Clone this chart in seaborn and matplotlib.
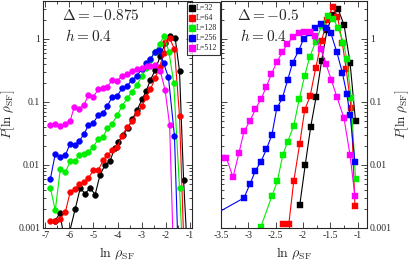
import numpy as np
import pandas as pd
import matplotlib
matplotlib.use("Agg")
import matplotlib.pyplot as plt
import seaborn as sns
from matplotlib.lines import Line2D
from matplotlib.ticker import FixedLocator, FixedFormatter, LogLocator, MultipleLocator, NullFormatter

# sizes and colours
sizes = ["L=32", "L=64", "L=128", "L=256", "L=512"]
colors = ["#000000", "#ff0000", "#00ee00", "#0000ff", "#ff00ff"]

# left panel: Delta = -0.875
x_l32 = [-6.6, -6.4, -6.15, -5.76, -5.55, -5.35, -5.14, -4.93, -4.73, -4.52, -4.32, -4.11, -3.97, -3.76, -3.56, -3.38, -3.19, -2.98, -2.8, -2.63, -2.43, -2.22, -2.02, -1.83, -1.6, -1.42, -1.25, -1.05]
y_l32 = [0.0013, 0.0017, 0.0005, 0.002, 0.0043, 0.0035, 0.0043, 0.0034, 0.0069, 0.010, 0.0114, 0.0187, 0.0233, 0.030, 0.039, 0.053, 0.074, 0.11, 0.151, 0.224, 0.32, 0.54, 0.85, 1.12, 1.03, 0.31, 0.0058, 0.0002]
x_l64 = [-6.79, -6.59, -6.38, -6.17, -5.97, -5.76, -5.6, -5.39, -5.21, -5.0, -4.8, -4.59, -4.43, -4.22, -4.01, -3.81, -3.6, -3.39, -3.19, -2.98, -2.8, -2.63, -2.43, -2.25, -2.07, -2.01, -1.83, -1.63, -1.42, -1.2]
y_l64 = [0.0013, 0.0013, 0.0014, 0.0018, 0.0037, 0.0042, 0.005, 0.0053, 0.0062, 0.0083, 0.0083, 0.0119, 0.0143, 0.017, 0.0194, 0.029, 0.040, 0.049, 0.068, 0.086, 0.121, 0.159, 0.238, 0.36, 0.59, 0.9, 1.03, 0.69, 0.06, 0.0002]
x_l128 = [-6.79, -6.59, -6.38, -6.17, -5.97, -5.76, -5.6, -5.39, -5.21, -5.0, -4.8, -4.59, -4.43, -4.22, -4.01, -3.81, -3.6, -3.39, -3.19, -2.98, -2.8, -2.63, -2.43, -2.25, -2.07, -1.86, -1.66, -1.42, -1.25]
y_l128 = [0.0043, 0.0019, 0.0086, 0.0076, 0.0114, 0.0114, 0.0145, 0.015, 0.016, 0.0194, 0.026, 0.028, 0.038, 0.045, 0.062, 0.086, 0.114, 0.146, 0.186, 0.259, 0.34, 0.46, 0.63, 0.83, 1.1, 0.63, 0.2, 0.0043, 0.0002]
x_l256 = [-6.79, -6.59, -6.38, -6.17, -5.97, -5.76, -5.6, -5.39, -5.21, -5.0, -4.8, -4.59, -4.43, -4.22, -4.01, -3.81, -3.6, -3.39, -3.19, -3.0, -2.8, -2.63, -2.45, -2.28, -2.08, -1.88, -1.63, -1.45]
y_l256 = [0.0061, 0.015, 0.0134, 0.0143, 0.0218, 0.0209, 0.0238, 0.031, 0.043, 0.047, 0.062, 0.066, 0.086, 0.119, 0.125, 0.165, 0.18, 0.224, 0.259, 0.33, 0.41, 0.476, 0.63, 0.67, 0.41, 0.246, 0.029, 0.0002]
x_l512 = [-6.79, -6.59, -6.38, -6.17, -5.97, -5.8, -5.6, -5.39, -5.21, -5.0, -4.8, -4.59, -4.43, -4.22, -4.01, -3.81, -3.6, -3.39, -3.19, -2.98, -2.77, -2.63, -2.43, -2.22, -2.02, -1.83, -1.65]
y_l512 = [0.043, 0.045, 0.041, 0.045, 0.050, 0.084, 0.078, 0.090, 0.129, 0.121, 0.159, 0.165, 0.171, 0.224, 0.215, 0.259, 0.278, 0.31, 0.33, 0.343, 0.372, 0.376, 0.38, 0.31, 0.155, 0.043, 0.0002]

# right panel: Delta = -0.5
x_r32 = [-2.06, -1.96, -1.86, -1.76, -1.66, -1.56, -1.46, -1.36, -1.25, -1.14, -1.04]
y_r32 = [0.0023, 0.010, 0.040, 0.121, 0.45, 1.39, 2.4, 3.0, 1.67, 0.42, 0.05]
x_r64 = [-2.37, -2.26, -2.17, -2.06, -1.97, -1.87, -1.77, -1.66, -1.56, -1.46, -1.37, -1.28, -1.21, -1.12, -1.05]
y_r64 = [0.00115, 0.00115, 0.0055, 0.0218, 0.074, 0.124, 0.34, 0.94, 2.0, 3.2, 2.26, 0.85, 0.33, 0.08, 0.0022]
x_r128 = [-2.77, -2.57, -2.47, -2.37, -2.28, -2.17, -2.07, -1.97, -1.88, -1.77, -1.66, -1.55, -1.45, -1.36, -1.26, -1.2, -1.12, -1.04]
y_r128 = [0.00105, 0.0032, 0.0055, 0.0144, 0.0235, 0.042, 0.11, 0.259, 0.51, 0.9, 1.6, 2.3, 2.1, 1.5, 0.87, 0.48, 0.114, 0.006]
x_r256 = [-3.9, -3.08, -2.97, -2.87, -2.77, -2.67, -2.57, -2.48, -2.38, -2.28, -2.19, -2.08, -1.99, -1.88, -1.78, -1.68, -1.58, -1.49, -1.38, -1.28, -1.2, -1.14, -1.05]
y_r256 = [0.0012, 0.003, 0.005, 0.0081, 0.0113, 0.0177, 0.030, 0.079, 0.114, 0.224, 0.42, 0.65, 1.0, 1.25, 1.48, 1.73, 1.48, 1.23, 0.61, 0.29, 0.134, 0.062, 0.0112]
x_r512 = [-3.49, -3.4, -3.28, -3.17, -3.08, -2.97, -2.87, -2.77, -2.67, -2.58, -2.48, -2.38, -2.29, -2.19, -2.08, -1.99, -1.88, -1.78, -1.68, -1.58, -1.48, -1.38, -1.25, -1.14, -1.05]
y_r512 = [0.0128, 0.0128, 0.0064, 0.0157, 0.034, 0.05, 0.077, 0.11, 0.175, 0.275, 0.43, 0.61, 0.83, 1.06, 1.23, 1.28, 1.31, 1.1, 0.7, 0.4, 0.22, 0.12, 0.055, 0.0143, 0.0032]

left_x = [x_l32, x_l64, x_l128, x_l256, x_l512]
left_y = [y_l32, y_l64, y_l128, y_l256, y_l512]
right_x = [x_r32, x_r64, x_r128, x_r256, x_r512]
right_y = [y_r32, y_r64, y_r128, y_r256, y_r512]

sns.set_style("ticks")
plt.rcParams["font.family"] = ["Liberation Serif", "DejaVu Serif"]
plt.rcParams["mathtext.fontset"] = "cm"
plt.rcParams["axes.linewidth"] = 0.8

fig = plt.figure(figsize=(4.15, 2.64), dpi=100)
ax1 = fig.add_axes([43 / 415, 36 / 264, 149 / 415, 227 / 264])
ax2 = fig.add_axes([221 / 415, 36 / 264, 146 / 415, 227 / 264])

for ax, xs_all, ys_all, mk in [(ax1, left_x, left_y, "o"), (ax2, right_x, right_y, "s")]:
    for xs, ys, c, lab in zip(xs_all, ys_all, colors, sizes):
        df = pd.DataFrame({"x": xs, "y": ys})
        sns.lineplot(data=df, x="x", y="y", ax=ax, color=c, marker=mk,
                     markersize=4.2, markeredgecolor=c, markeredgewidth=0.3,
                     linewidth=0.8, estimator=None, sort=False)
    ax.set_yscale("log")
    ax.set_ylim(0.001, 4.0)
    ax.yaxis.set_major_locator(FixedLocator([0.001, 0.01, 0.1, 1]))
    ax.yaxis.set_major_formatter(FixedFormatter(["0.001", "0.01", "0.1", "1"]))
    ax.yaxis.set_minor_locator(LogLocator(base=10, subs=np.arange(2, 10)))
    ax.yaxis.set_minor_formatter(NullFormatter())
    ax.tick_params(which="both", direction="in", top=True, right=True, left=True, bottom=True,
                   labelsize=7, width=0.6, pad=2)
    ax.tick_params(which="major", length=4)
    ax.tick_params(which="minor", length=2)
    ax.set_xlabel(r"$\ln\,\rho_{\rm SF}$", fontsize=10, labelpad=4)
    ax.set_ylabel(r"$P[\ln\,\rho_{\rm SF}]$", fontsize=9.5, labelpad=1)

ax1.set_xlim(-7.1, -0.9)
ax1.set_xticks([-7, -6, -5, -4, -3, -2, -1])
ax1.set_xticklabels(["-7", "-6", "-5", "-4", "-3", "-2", "-1"])
ax1.xaxis.set_minor_locator(MultipleLocator(0.5))

ax2.set_xlim(-3.5, -0.83)
ax2.set_xticks([-3.5, -3, -2.5, -2, -1.5, -1])
ax2.set_xticklabels(["-3.5", "-3", "-2.5", "-2", "-1.5", "-1"])
ax2.xaxis.set_minor_locator(MultipleLocator(0.25))
ax2.tick_params(axis="y", which="both", labelleft=False, labelright=True)
ax2.yaxis.set_label_position("right")

ax1.text(0.13, 0.935, r"$\Delta=-0.875$", transform=ax1.transAxes, fontsize=11, va="center")
ax1.text(0.15, 0.845, r"$h=0.4$", transform=ax1.transAxes, fontsize=11, va="center")
ax2.text(0.11, 0.935, r"$\Delta=-0.5$", transform=ax2.transAxes, fontsize=11, va="center")
ax2.text(0.13, 0.845, r"$h=0.4$", transform=ax2.transAxes, fontsize=11, va="center")

handles = [Line2D([], [], linestyle="none", marker="s", markersize=4.5, color=c, markeredgecolor=c)
           for c in colors]
leg = fig.legend(handles, sizes, loc="upper left", bbox_to_anchor=(187 / 415, 1 - 2 / 264),
                 fontsize=5.8, frameon=True, fancybox=False, handlelength=0.6, handletextpad=0.2,
                 borderpad=0.3, labelspacing=0.25, borderaxespad=0)
leg.get_frame().set_edgecolor("black")
leg.get_frame().set_linewidth(0.8)

fig.savefig("out.png", dpi=100)
